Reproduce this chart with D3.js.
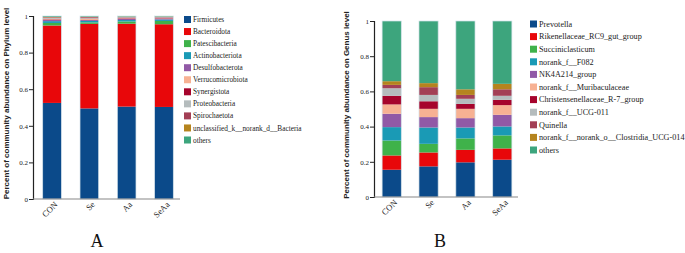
<html>
<head>
<meta charset="utf-8" />
<title>Community abundance</title>
<script src="https://cdn.jsdelivr.net/npm/d3@7"></script>
<style>
body { margin: 0; background: #fff; }
.tick text { font-family: "Liberation Serif", "DejaVu Serif", serif; }
</style>
</head>
<body>
<script>

var groups = ["CON", "Se", "Aa", "SeAa"];

// phylum level
var phylumNames = ["Firmicutes", "Bacteroidota", "Patescibacteria", "Actinobacteriota", "Desulfobacterota",
	"Verrucomicrobiota", "Synergistota", "Proteobacteria", "Spirochaetota", "unclassified_k__norank_d__Bacteria", "others"];
var phylumValues = [
	[0.525, 0.495, 0.505, 0.503],
	[0.423, 0.462, 0.453, 0.452],
	[0.014, 0.008, 0.012, 0.018],
	[0.010, 0.008, 0.008, 0.008],
	[0.006, 0.005, 0.006, 0.004],
	[0.004, 0.006, 0.003, 0.002],
	[0.003, 0.002, 0.002, 0.003],
	[0.005, 0.004, 0.004, 0.003],
	[0.003, 0.004, 0.002, 0.002],
	[0.002, 0.002, 0.002, 0.002],
	[0.005, 0.004, 0.003, 0.003]
];

// genus level
var genusNames = ["Prevotella", "Rikenellaceae_RC9_gut_group", "Succiniclasticum", "norank_f__F082", "NK4A214_group",
	"norank_f__Muribaculaceae", "Christensenellaceae_R-7_group", "norank_f__UCG-011", "Quinella",
	"norank_f__norank_o__Clostridia_UCG-014", "others"];
var genusValues = [
	[0.155, 0.174, 0.197, 0.212],
	[0.081, 0.079, 0.071, 0.064],
	[0.085, 0.049, 0.065, 0.074],
	[0.076, 0.093, 0.062, 0.051],
	[0.076, 0.059, 0.053, 0.066],
	[0.053, 0.047, 0.053, 0.055],
	[0.049, 0.043, 0.028, 0.030],
	[0.043, 0.036, 0.029, 0.023],
	[0.019, 0.044, 0.022, 0.037],
	[0.021, 0.023, 0.032, 0.031],
	[0.342, 0.353, 0.388, 0.357]
];

var colors = ["#0b4a8a", "#e8070a", "#3fb24a", "#1a9ab5", "#9159a6", "#f7b193",
	"#a6042c", "#b5bcbd", "#a33f55", "#b5841e", "#3da57d"];

var yTicks = [0, 0.2, 0.4, 0.6, 0.8, 1];

var svg = d3.select("body").append("svg")
	.attr("width", 685)
	.attr("height", 253);

function panel(opt) {
	var names = opt.names, values = opt.values;
	var rows = groups.map(function(g, j) {
		var r = {group: g};
		names.forEach(function(n, i) { r[n] = values[i][j]; });
		return r;
	});
	var series = d3.stack().keys(names)(rows);

	var x = d3.scaleBand().domain(groups).range([opt.left, opt.right]).paddingInner(opt.padIn).paddingOuter(opt.padOut);
	var y = d3.scaleLinear().domain([0, 1]).range([opt.bottom, opt.top]);

	var g = svg.append("g");

	g.selectAll("g.layer").data(series).enter().append("g")
		.attr("fill", function(d, i) { return colors[i]; })
		.selectAll("rect").data(function(d) { return d; }).enter().append("rect")
		.attr("x", function(d) { return x(d.data.group); })
		.attr("width", x.bandwidth())
		.attr("y", function(d) { return y(Math.min(1, d[1])); })
		.attr("height", function(d) { return y(d[0]) - y(Math.min(1, d[1])); });

	// light edge round each bar
	g.selectAll("rect.edge").data(groups).enter().append("rect")
		.attr("x", function(d) { return x(d); })
		.attr("width", x.bandwidth())
		.attr("y", y(1))
		.attr("height", y(0) - y(1))
		.attr("fill", "none")
		.attr("stroke", "#d4e2ea")
		.attr("stroke-width", 0.7);

	var ya = g.append("g")
		.attr("transform", "translate(" + opt.left + ",0)")
		.call(d3.axisLeft(y).tickValues(yTicks).tickFormat(d3.format("")).tickSize(4));
	ya.select(".domain").attr("stroke", "#222").attr("stroke-width", 1.2);
	ya.selectAll(".tick line").attr("stroke", "#222");
	ya.selectAll(".tick text").attr("font-size", 7).attr("fill", "#222").attr("x", -5);

	var xa = g.append("g")
		.attr("transform", "translate(0," + opt.bottom + ")")
		.call(d3.axisBottom(x).tickSize(0).tickFormat(""));
	xa.select(".domain").attr("stroke", "#888").attr("stroke-width", 1.2)
		.attr("d", "M" + opt.left + ",0H" + opt.axisEnd);

	// slanted group names under the bars
	g.selectAll("g.xlab").data(groups).enter().append("g")
		.attr("transform", function(d) { return "translate(" + (x(d) + x.bandwidth() / 2 + 4) + "," + (opt.bottom + 4) + ") rotate(-45)"; })
		.append("text")
		.attr("text-anchor", "end")
		.attr("dy", "0.35em")
		.attr("font-family", "Liberation Serif, DejaVu Serif, serif")
		.attr("font-size", 8.5)
		.attr("fill", "#222")
		.text(function(d) { return d; });

	g.append("text")
		.attr("transform", "translate(" + opt.labelX + "," + ((opt.top + opt.bottom) / 2 - 4) + ") rotate(-90)")
		.attr("text-anchor", "middle")
		.attr("font-family", "Liberation Sans, Arial, sans-serif")
		.attr("font-weight", "bold")
		.attr("font-size", 8)
		.attr("fill", "#222")
		.text(opt.yLabel);

	var leg = g.selectAll("g.leg").data(names).enter().append("g")
		.attr("transform", function(d, i) { return "translate(" + opt.legX + "," + (opt.legY + i * opt.legStep) + ")"; });
	leg.append("rect")
		.attr("x", 0).attr("y", -opt.sw / 2)
		.attr("width", opt.sw).attr("height", opt.sw)
		.attr("fill", function(d, i) { return colors[i]; });
	leg.append("text")
		.attr("x", opt.sw + 2)
		.attr("dy", "0.35em")
		.attr("font-family", "Liberation Serif, DejaVu Serif, serif")
		.attr("font-size", opt.legFont)
		.attr("fill", "#222")
		.text(function(d) { return d; });

	g.append("text")
		.attr("x", opt.letterX)
		.attr("y", 247)
		.attr("text-anchor", "middle")
		.attr("font-family", "Liberation Serif, DejaVu Serif, serif")
		.attr("font-size", 18)
		.attr("fill", "#111")
		.text(opt.letter);
}

panel({
	names: phylumNames, values: phylumValues,
	left: 33, right: 183, axisEnd: 180, padIn: 0.5, padOut: 0.26,
	top: 16, bottom: 199, labelX: 9,
	yLabel: "Percent of community abundance on Phylum level",
	legX: 184, legY: 19.5, legStep: 12.05, sw: 7, legFont: 7.3,
	letter: "A", letterX: 97
});

panel({
	names: genusNames, values: genusValues,
	left: 374, right: 520, axisEnd: 518, padIn: 0.48, padOut: 0.22,
	top: 21, bottom: 197, labelX: 349,
	yLabel: "Percent of community abundance on Genus level",
	legX: 530, legY: 24, legStep: 12.6, sw: 7, legFont: 8.2,
	letter: "B", letterX: 440
});

</script>
</body>
</html>
